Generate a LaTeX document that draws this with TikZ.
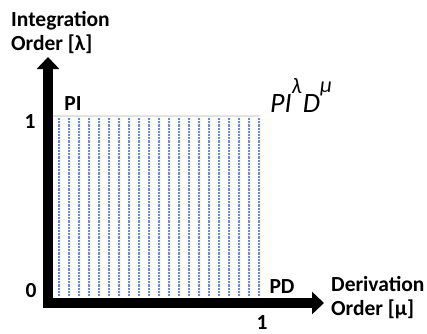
\documentclass[tikz,border=0pt]{standalone}
\usepackage{fontspec}
\setmainfont{Carlito}
\usetikzlibrary{arrows.meta}
\begin{document}
\begin{tikzpicture}[x=1pt,y=-1pt,
  lbl/.style={font=\fontsize{21.5}{23.5}\selectfont\bfseries, inner sep=0pt},
  axis/.style={line width=10pt, -{Triangle[width=22pt,length=12pt]}},
  hatchb/.style={draw={rgb,255:red,100;green,138;blue,230}, line width=1.1pt, dash pattern=on 2.2pt off 1pt},
  hatchy/.style={draw={rgb,255:red,255;green,252;blue,185}, line width=0.7pt}
]
\useasboundingbox (0,0) rectangle (427,333);
% region
\coordinate (rtl) at (53,116);
\coordinate (rbr) at (260,297);
\draw[draw={rgb,255:red,225;green,225;blue,225}, line width=1.2pt] (53,116) -- (260,116);
\foreach \x in {59,69,...,259} {
  \draw[hatchy] (\x+1.3,118) -- (\x+1.3,297);
  \draw[hatchb] (\x,118) -- (\x,297);
}
% axes
\coordinate (o) at (48,303);
\coordinate (ytip) at (48,57);
\coordinate (xtip) at (324,303);
\draw[axis] (48,308) -- (ytip);
\draw[axis] (43,303) -- (xtip);
% labels
\node[lbl, anchor=base west, align=left] (ylab) at (11,50) {Integration\\[0.5pt]Order [λ]};
\node[lbl, anchor=base west, align=left] (xlab) at (331,315) {Derivation\\[0.5pt]Order [μ]};
\node[lbl, anchor=base] (pi) at (73,110) {PI};
\node[lbl, anchor=base] (pd) at (282,293) {PD};
\node[lbl, anchor=base] (y1) at (30,128) {1};
\node[lbl, anchor=base] (y0) at (31,297) {0};
\node[lbl, anchor=base] (x1) at (262,329) {1};
\node[inner sep=0pt, anchor=base west, font=\fontsize{28}{30}\selectfont\itshape] (formula) at (270,112) {PI\raisebox{19pt}{\fontsize{22}{22}\selectfont λ}\kern1pt D\raisebox{20pt}{\fontsize{22}{22}\selectfont μ}};
\end{tikzpicture}
\end{document}
